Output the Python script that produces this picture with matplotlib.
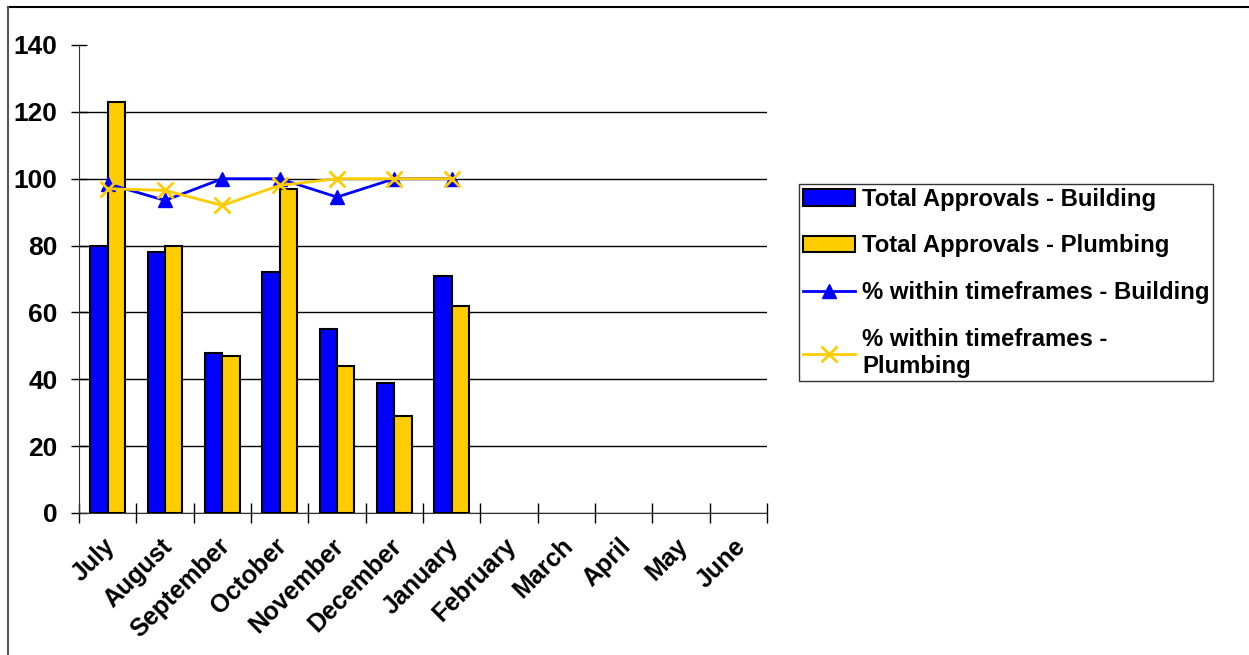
import matplotlib.pyplot as plt
import numpy as np
from matplotlib.lines import Line2D
from matplotlib.transforms import ScaledTranslation

months = ['July', 'August', 'September', 'October', 'November', 'December',
          'January', 'February', 'March', 'April', 'May', 'June']
total_building = [80, 78, 48, 72, 55, 39, 71]
total_plumbing = [123, 80, 47, 97, 44, 29, 62]
pct_building = [98.5, 93.5, 100, 100, 94.5, 100, 100]
pct_plumbing = [97, 96.5, 92, 98, 100, 100, 100]

BLUE = '#0000FF'
GOLD = '#FFCC00'

plt.rcParams['font.family'] = ['Liberation Sans', 'DejaVu Sans']
plt.rcParams['font.weight'] = 'bold'

fig = plt.figure(figsize=(12.49, 6.55), dpi=100)
ax = fig.add_axes([79 / 1249, 1 - 513 / 655, (767 - 79) / 1249, (513 - 45) / 655])

x = np.arange(len(total_building))
w = 0.3
b1 = ax.bar(x - w / 2, total_building, w, color=BLUE, edgecolor='black', linewidth=1.5,
            label='Total Approvals - Building', zorder=3)
b2 = ax.bar(x + w / 2, total_plumbing, w, color=GOLD, edgecolor='black', linewidth=1.5,
            label='Total Approvals - Plumbing', zorder=3)
l1, = ax.plot(x, pct_building, color=BLUE, lw=2, marker='^', ms=10,
              label='% within timeframes - Building', zorder=4)
l2, = ax.plot(x, pct_plumbing, color=GOLD, lw=2, marker='x', ms=12, mew=2,
              label='% within timeframes -\nPlumbing', zorder=5)

ax.set_xlim(-0.5, 11.5)
ax.set_ylim(0, 140)
ax.set_yticks(range(0, 141, 20))
ax.grid(axis='y', color='black', lw=1, zorder=0)
ax.get_ygridlines()[-1].set_visible(False)
ax.tick_params(axis='y', direction='inout', length=11, width=1, labelsize=19, pad=10)

ax.set_xticks(range(len(months)))
ax.set_xticklabels(months, rotation=45, ha='right', rotation_mode='anchor', fontsize=18)
ax.set_xticks(np.arange(-0.5, 12, 1), minor=True)
ax.tick_params(axis='x', which='major', length=0, pad=15)
ax.tick_params(axis='x', which='minor', direction='inout', length=14, width=1)
shift = ScaledTranslation(-5 / 100, 0, fig.dpi_scale_trans)
for lab in ax.get_xticklabels():
    lab.set_transform(lab.get_transform() + shift)

for s in ['top', 'right']:
    ax.spines[s].set_visible(False)
ax.spines['left'].set_color('#333333')
ax.spines['bottom'].set_color('#333333')

leg = ax.legend([b1, b2, l1, l2], [h.get_label() for h in (b1, b2, l1, l2)],
                loc='upper left', bbox_to_anchor=(799 / 1249, 1 - 184 / 655),
                bbox_transform=fig.transFigure, borderaxespad=0, fontsize=17.2,
                frameon=True, fancybox=False, edgecolor='black', handlelength=2.2,
                handletextpad=0.3, labelspacing=1.0, borderpad=0.15)
leg.get_frame().set_linewidth(1)

# outer frame lines (top and left)
fig.add_artist(Line2D([8 / 1249, 1], [1 - 7 / 655, 1 - 7 / 655], color='black', lw=1.5,
                      transform=fig.transFigure))
fig.add_artist(Line2D([8 / 1249, 8 / 1249], [0, 1 - 7 / 655], color='#555555', lw=1.5,
                      transform=fig.transFigure))

fig.savefig('out.png', dpi=100)
